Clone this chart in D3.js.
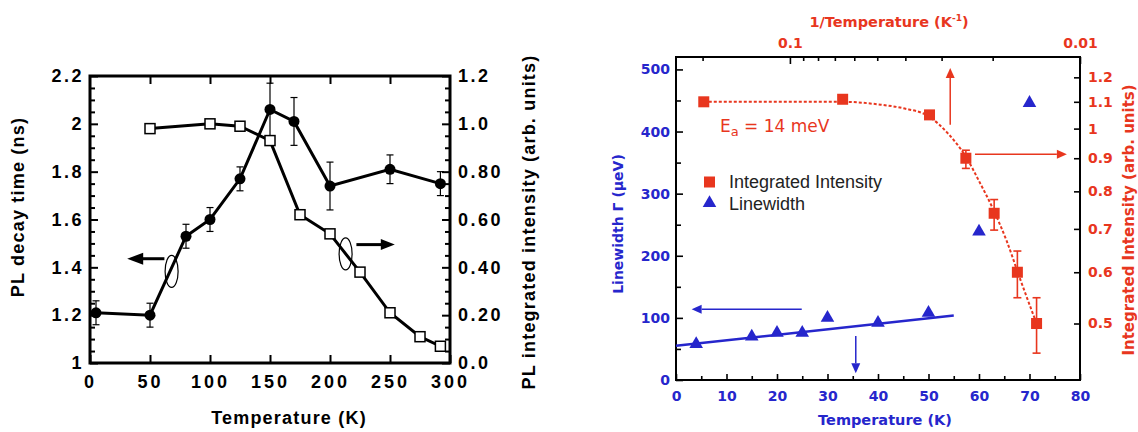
<!DOCTYPE html>
<html><head><meta charset="utf-8">
<script src="https://cdn.jsdelivr.net/npm/d3@7"></script>
<style>body{margin:0;background:#fff} svg{display:block}</style>
</head><body><svg id="c" width="1138" height="432"></svg>
<script>
// ---------- Left panel data ----------
const decayT = [5, 50, 80, 100, 125, 150, 170, 200, 250, 292];
const decayTime = [1.21, 1.20, 1.53, 1.60, 1.77, 2.06, 2.01, 1.74, 1.81, 1.75];
const decayErr = [0.05, 0.05, 0.05, 0.05, 0.05, 0.11, 0.10, 0.10, 0.06, 0.05];
const intT = [50, 100, 125, 150, 175, 200, 225, 250, 275, 292];
const intVal = [0.98, 1.00, 0.99, 0.93, 0.62, 0.54, 0.38, 0.21, 0.11, 0.07];
const leftTicks = [1, 1.2, 1.4, 1.6, 1.8, 2, 2.2];
const leftTickLabels = ["1", "1.2", "1.4", "1.6", "1.8", "2", "2.2"];
const rightTicks = [0, 0.2, 0.4, 0.6, 0.8, 1.0, 1.2];
const rightTickLabels = ["0.0", "0.20", "0.40", "0.60", "0.80", "1.0", "1.2"];
const bottomTicksA = [0, 50, 100, 150, 200, 250, 300];

// ---------- Right panel data ----------
const lwT = [4, 15, 20, 25, 30, 40, 50, 60, 70];
const lwVal = [58, 70, 76, 76, 100, 92, 108, 239, 446];
const fitT = [0, 55];
const fitLW = [55, 104];
const iiT = [5.5, 33, 50.2, 57.4, 63, 67.6, 71.4];
const iiVal = [1.10, 1.11, 1.05, 0.90, 0.74, 0.60, 0.50];
const iiLo = [null, null, null, 0.868, 0.697, 0.548, 0.45];
const iiHi = [null, null, null, 0.926, 0.777, 0.647, 0.548];
const curveT = [5.5, 15, 25, 33, 40, 45, 50, 54, 57.4, 60, 63, 65.5, 68, 71.4];
const curveV = [1.10, 1.10, 1.10, 1.10, 1.09, 1.075, 1.045, 0.98, 0.905, 0.83, 0.745, 0.67, 0.59, 0.50];
const lwTicks = [0, 100, 200, 300, 400, 500];
const tTicksB = [0, 10, 20, 30, 40, 50, 60, 70, 80];
const iiTicks = [0.5, 0.6, 0.7, 0.8, 0.9, 1, 1.1, 1.2];
const iiTickLabels = ["0.5", "0.6", "0.7", "0.8", "0.9", "1", "1.1", "1.2"];
const invTTicks = [0.1, 0.01];
const invTTickLabels = ["0.1", "0.01"];
const invTMinor = [0.2, 0.09, 0.08, 0.07, 0.06, 0.05, 0.04, 0.03, 0.02];

const RED = "#e8361e", BLUE = "#2626cc";
const FONT_A = "'Liberation Sans', Arial, Helvetica, sans-serif";
const FONT_B = "'DejaVu Sans', Verdana, sans-serif";
const svg = d3.select("#c");
svg.append("rect").attr("width", 1138).attr("height", 432).attr("fill", "#fff");

// ================= LEFT PANEL =================
const xA = d3.scaleLinear().domain([0, 300]).range([90, 450]);
const yA = d3.scaleLinear().domain([1, 2.2]).range([363, 76]);
const yA2 = d3.scaleLinear().domain([0, 1.2]).range([363, 76]);
const gA = svg.append("g").attr("font-family", FONT_A).attr("font-weight", "bold");

function styleAxis(g, size, ls, color) {
  g.select(".domain").remove();
  g.attr("font-family", FONT_A).attr("font-size", size);
  g.selectAll(".tick line").attr("stroke", "#000").attr("stroke-width", 2);
  g.selectAll(".tick text").attr("font-size", size).attr("font-family", FONT_A).attr("font-weight", "bold")
    .attr("fill", color || "#000").attr("letter-spacing", ls || 0);
}
gA.append("g").attr("transform", "translate(90,0)")
  .call(d3.axisLeft(yA).tickValues(leftTicks).tickSizeInner(-8).tickSizeOuter(0).tickPadding(6)
    .tickFormat((d, i) => leftTickLabels[i]))
  .call(g => styleAxis(g, 18, 2.5));
gA.append("g").attr("transform", "translate(90,0)")
  .call(d3.axisLeft(yA).tickValues(d3.range(1.05, 2.2, 0.05).filter(v => Math.abs(Math.round(v * 5) / 5 - v) > 0.01))
    .tickSizeInner(-5).tickSizeOuter(0).tickFormat(""))
  .call(g => styleAxis(g, 18));
gA.append("g").attr("transform", "translate(450,0)")
  .call(d3.axisRight(yA2).tickValues(rightTicks).tickSizeInner(-8).tickSizeOuter(0).tickPadding(8)
    .tickFormat((d, i) => rightTickLabels[i]))
  .call(g => styleAxis(g, 18, 2.5));
gA.append("g").attr("transform", "translate(450,0)")
  .call(d3.axisRight(yA2).tickValues(d3.range(0.05, 1.2, 0.05).filter(v => Math.abs(Math.round(v * 5) / 5 - v) > 0.01))
    .tickSizeInner(-5).tickSizeOuter(0).tickFormat(""))
  .call(g => styleAxis(g, 18));
gA.append("g").attr("transform", "translate(0,363)")
  .call(d3.axisBottom(xA).tickValues(bottomTicksA).tickSizeInner(-8).tickSizeOuter(0).tickPadding(12)
    .tickFormat(d3.format("d")))
  .call(g => styleAxis(g, 18, 3));
gA.append("g").attr("transform", "translate(0,76)")
  .call(d3.axisTop(xA).tickValues([50, 100, 150, 200, 250]).tickSizeInner(-8).tickSizeOuter(0).tickFormat(""))
  .call(g => styleAxis(g, 18));
gA.append("rect").attr("x", 90).attr("y", 76).attr("width", 360).attr("height", 287)
  .attr("fill", "none").attr("stroke", "#000").attr("stroke-width", 3);

gA.append("text").attr("transform", "translate(24,207) rotate(-90)").attr("text-anchor", "middle")
  .attr("font-size", 18).attr("letter-spacing", 1.2).text("PL decay time (ns)");
gA.append("text").attr("x", 289).attr("y", 424).attr("text-anchor", "middle")
  .attr("font-size", 18).attr("letter-spacing", 1.2).text("Temperature (K)");
gA.append("text").attr("transform", "translate(535,222) rotate(-90)").attr("text-anchor", "middle")
  .attr("font-size", 18).attr("letter-spacing", 1.2).text("PL integrated intensity (arb. units)");

const lineA = d3.line().x(d => xA(d[0])).y(d => yA(d[1]));
const lineA2 = d3.line().x(d => xA(d[0])).y(d => yA2(d[1]));
const decayPts = decayT.map((t, i) => [t, decayTime[i], decayErr[i]]);
const intPts = intT.map((t, i) => [t, intVal[i]]);
gA.append("path").attr("d", lineA2(intPts)).attr("fill", "none").attr("stroke", "#000").attr("stroke-width", 3);
gA.append("path").attr("d", lineA(decayPts)).attr("fill", "none").attr("stroke", "#000").attr("stroke-width", 3);
const eb = gA.append("g").attr("stroke", "#000").attr("stroke-width", 1.2);
decayPts.forEach(d => {
  const x = xA(d[0]), y1 = yA(d[1] - d[2]), y2 = yA(d[1] + d[2]);
  eb.append("line").attr("x1", x).attr("x2", x).attr("y1", y1).attr("y2", y2);
  eb.append("line").attr("x1", x - 3.5).attr("x2", x + 3.5).attr("y1", y1).attr("y2", y1);
  eb.append("line").attr("x1", x - 3.5).attr("x2", x + 3.5).attr("y1", y2).attr("y2", y2);
});
gA.selectAll("rect.sq").data(intPts).join("rect").attr("class", "sq")
  .attr("x", d => xA(d[0]) - 5).attr("y", d => yA2(d[1]) - 5).attr("width", 10).attr("height", 10)
  .attr("fill", "#fff").attr("stroke", "#000").attr("stroke-width", 1.5);
gA.selectAll("circle.dc").data(decayPts).join("circle").attr("class", "dc")
  .attr("cx", d => xA(d[0])).attr("cy", d => yA(d[1])).attr("r", 5.5).attr("fill", "#000");

const annLeftEllipse = [68, 1.383], annLeftArrow = [62, 31, 1.436];
const annRightEllipse = [213, 0.456], annRightArrow = [222, 254, 0.495];
gA.append("ellipse").attr("cx", xA(annLeftEllipse[0])).attr("cy", yA(annLeftEllipse[1]))
  .attr("rx", 6.5).attr("ry", 16).attr("fill", "none").attr("stroke", "#000").attr("stroke-width", 1.2);
gA.append("ellipse").attr("cx", xA(annRightEllipse[0])).attr("cy", yA2(annRightEllipse[1]))
  .attr("rx", 6.5).attr("ry", 16).attr("fill", "none").attr("stroke", "#000").attr("stroke-width", 1.2);
{
  const x0 = xA(annLeftArrow[0]), x1 = xA(annLeftArrow[1]), y = yA(annLeftArrow[2]);
  gA.append("line").attr("x1", x0).attr("x2", x1 + 14).attr("y1", y).attr("y2", y).attr("stroke", "#000").attr("stroke-width", 3);
  gA.append("path").attr("d", `M${x1},${y}L${x1 + 16},${y - 6}L${x1 + 16},${y + 6}Z`).attr("fill", "#000");
}
{
  const x0 = xA(annRightArrow[0]), x1 = xA(annRightArrow[1]), y = yA2(annRightArrow[2]);
  gA.append("line").attr("x1", x0).attr("x2", x1 - 12).attr("y1", y).attr("y2", y).attr("stroke", "#000").attr("stroke-width", 3);
  gA.append("path").attr("d", `M${x1},${y}L${x1 - 14},${y - 5.5}L${x1 - 14},${y + 5.5}Z`).attr("fill", "#000");
}

// ================= RIGHT PANEL =================
const xB = d3.scaleLinear().domain([0, 80]).range([676, 1080]);
const yB = d3.scaleLinear().domain([0, 520]).range([380, 57]);
const yC = d3.scaleLog().domain([0.409, 1.29]).range([380, 57]);
const xTop = d3.scaleLog().domain([0.247, 0.01]).range([676, 1080]);
const gB = svg.append("g").attr("font-family", FONT_B).attr("font-weight", "bold");
function styleB(g, color) {
  g.select(".domain").remove();
  g.attr("font-family", FONT_B).attr("font-size", 14);
  g.selectAll(".tick line").attr("stroke", "#000").attr("stroke-width", 1.6);
  g.selectAll(".tick text").attr("font-size", 14).attr("font-family", FONT_B).attr("font-weight", "bold").attr("fill", color);
}
gB.append("g").attr("transform", "translate(676,0)")
  .call(d3.axisLeft(yB).tickValues(lwTicks).tickSizeInner(-7).tickSizeOuter(0).tickPadding(6).tickFormat(d3.format("d")))
  .call(g => styleB(g, BLUE));
gB.append("g").attr("transform", "translate(676,0)")
  .call(d3.axisLeft(yB).tickValues([50, 150, 250, 350, 450]).tickSizeInner(-5).tickSizeOuter(0).tickFormat(""))
  .call(g => styleB(g, BLUE));
gB.append("g").attr("transform", "translate(0,380)")
  .call(d3.axisBottom(xB).tickValues(tTicksB).tickSizeInner(-6).tickSizeOuter(0).tickPadding(11).tickFormat(d3.format("d")))
  .call(g => styleB(g, BLUE));
gB.append("g").attr("transform", "translate(0,380)")
  .call(d3.axisBottom(xB).tickValues(d3.range(5, 80, 10)).tickSizeInner(-4).tickSizeOuter(0).tickFormat(""))
  .call(g => styleB(g, BLUE));
gB.append("g").attr("transform", "translate(1080,0)")
  .call(d3.axisRight(yC).tickValues(iiTicks).tickSizeInner(-6).tickSizeOuter(0).tickPadding(8)
    .tickFormat((d, i) => iiTickLabels[i]))
  .call(g => styleB(g, RED));
gB.append("g").attr("transform", "translate(0,57)")
  .call(d3.axisTop(xTop).tickValues(invTTicks).tickSizeInner(-7).tickSizeOuter(0).tickPadding(9)
    .tickFormat((d, i) => invTTickLabels[i]))
  .call(g => styleB(g, RED));
gB.append("g").attr("transform", "translate(0,57)")
  .call(d3.axisTop(xTop).tickValues(invTMinor).tickSizeInner(-4).tickSizeOuter(0).tickFormat(""))
  .call(g => styleB(g, RED));
gB.append("rect").attr("x", 676).attr("y", 57).attr("width", 404).attr("height", 323)
  .attr("fill", "none").attr("stroke", "#000").attr("stroke-width", 2);

gB.append("text").attr("transform", "translate(623,224) rotate(-90)").attr("text-anchor", "middle")
  .attr("font-size", 14).attr("fill", BLUE).text("Linewidth Γ (μeV)");
gB.append("text").attr("x", 885).attr("y", 425).attr("text-anchor", "middle")
  .attr("font-size", 14.5).attr("fill", BLUE).text("Temperature (K)");
gB.append("text").attr("transform", "translate(1134,220) rotate(-90)").attr("text-anchor", "middle")
  .attr("font-size", 15).attr("fill", RED).text("Integrated Intensity (arb. units)");
{
  const t = gB.append("text").attr("x", 889).attr("y", 27).attr("text-anchor", "middle")
    .attr("font-size", 14.5).attr("fill", RED);
  t.append("tspan").text("1/Temperature (K");
  t.append("tspan").attr("font-size", 9).attr("dy", -6).text("-1");
  t.append("tspan").attr("dy", 6).text(")");
}

gB.append("line").attr("x1", xB(fitT[0])).attr("x2", xB(fitT[1])).attr("y1", yB(fitLW[0])).attr("y2", yB(fitLW[1]))
  .attr("stroke", BLUE).attr("stroke-width", 2.5);
const curvePts = curveT.map((t, i) => [t, curveV[i]]);
gB.append("path").attr("d", d3.line().x(d => xB(d[0])).y(d => yC(d[1])).curve(d3.curveMonotoneX)(curvePts))
  .attr("fill", "none").attr("stroke", RED).attr("stroke-width", 2).attr("stroke-dasharray", "3,2");
const ebB = gB.append("g").attr("stroke", RED).attr("stroke-width", 1.6);
iiT.forEach((t, i) => {
  if (iiLo[i] == null) return;
  const x = xB(t), y1 = yC(iiLo[i]), y2 = yC(iiHi[i]);
  ebB.append("line").attr("x1", x).attr("x2", x).attr("y1", y1).attr("y2", y2);
  ebB.append("line").attr("x1", x - 4).attr("x2", x + 4).attr("y1", y1).attr("y2", y1);
  ebB.append("line").attr("x1", x - 4).attr("x2", x + 4).attr("y1", y2).attr("y2", y2);
});
gB.selectAll("rect.ii").data(iiT.map((t, i) => [t, iiVal[i]])).join("rect").attr("class", "ii")
  .attr("x", d => xB(d[0]) - 5.5).attr("y", d => yC(d[1]) - 5.5).attr("width", 11).attr("height", 11).attr("fill", RED);
const tri = d3.symbol(d3.symbolTriangle).size(80);
gB.selectAll("path.lw").data(lwT.map((t, i) => [t, lwVal[i]])).join("path").attr("class", "lw")
  .attr("d", tri).attr("transform", d => `translate(${xB(d[0])},${yB(d[1])})`).attr("fill", BLUE);

function arrow(g, x0, y0, x1, y1, color) {
  const a = Math.atan2(y1 - y0, x1 - x0), L = 10, W = 4.5;
  const bx = x1 - L * Math.cos(a), by = y1 - L * Math.sin(a);
  g.append("line").attr("x1", x0).attr("y1", y0).attr("x2", bx).attr("y2", by).attr("stroke", color).attr("stroke-width", 1.5);
  g.append("path").attr("d", `M${x1},${y1}L${bx - W * Math.sin(a)},${by + W * Math.cos(a)}L${bx + W * Math.sin(a)},${by - W * Math.cos(a)}Z`).attr("fill", color);
}
const annBlueLeft = [24.9, 3.1, 114], annBlueDown = [35.6, 71, 11];
const annRedUp = [54.3, 1.014, 1.24], annRedRight = [59.2, 77.4, 0.913];
arrow(gB, xB(annBlueLeft[0]), yB(annBlueLeft[2]), xB(annBlueLeft[1]), yB(annBlueLeft[2]), BLUE);
arrow(gB, xB(annBlueDown[0]), yB(annBlueDown[1]), xB(annBlueDown[0]), yB(annBlueDown[2]), BLUE);
arrow(gB, xB(annRedUp[0]), yC(annRedUp[1]), xB(annRedUp[0]), yC(annRedUp[2]), RED);
arrow(gB, xB(annRedRight[0]), yC(annRedRight[2]), xB(annRedRight[1]), yC(annRedRight[2]), RED);

const legend = gB.append("g").attr("font-family", FONT_A)
  .attr("font-weight", "normal").attr("font-size", 18).attr("fill", "#222");
legend.append("rect").attr("x", 704).attr("y", 176.5).attr("width", 11).attr("height", 11).attr("fill", RED);
legend.append("text").attr("x", 729).attr("y", 188).text("Integrated Intensity");
legend.append("path").attr("d", tri).attr("transform", "translate(709.5,203)").attr("fill", BLUE);
legend.append("text").attr("x", 729).attr("y", 210).text("Linewidth");
{
  const t = gB.append("text").attr("x", 720).attr("y", 131.5).attr("font-weight", "normal")
    .attr("font-size", 17).attr("fill", RED);
  t.append("tspan").text("E");
  t.append("tspan").attr("font-size", 13).attr("dy", 4).text("a");
  t.append("tspan").attr("dy", -4).text(" = 14 meV");
}
</script></body></html>
